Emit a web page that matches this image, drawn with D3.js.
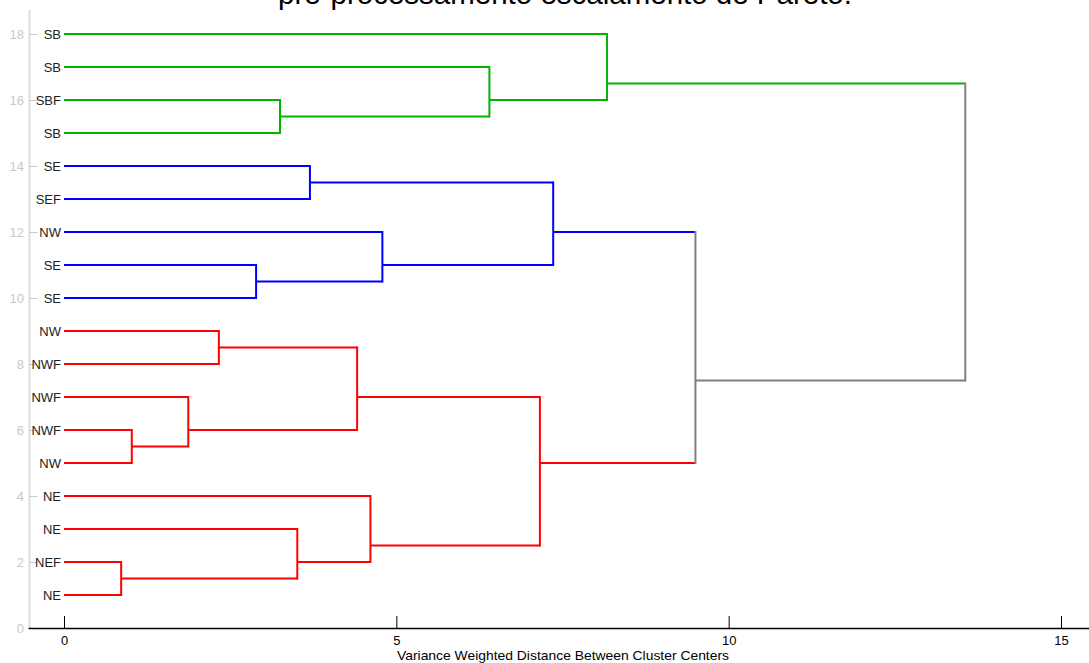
<!DOCTYPE html>
<html>
<head>
<meta charset="utf-8">
<script src="https://cdn.jsdelivr.net/npm/d3@7"></script>
<style>
  html, body { margin: 0; padding: 0; background: #fff; }
  svg { display: block; }
</style>
</head>
<body>
<svg id="chart" width="1089" height="663"></svg>
<script>
// ---------------- DATA ----------------
const titleText = "pré-processamento escalamento de Pareto.";
const xAxisLabel = "Variance Weighted Distance Between Cluster Centers";
// leaves listed bottom-to-top (leaf i sits at y = i + 1)
const leafLabels = ["NE","NEF","NE","NE","NW","NWF","NWF","NWF","NW","SE","SE","NW","SEF","SE","SB","SBF","SB","SB"];
// linkage: new node id = 18 + row index
const mergeLeft   = [0, 4, 6, 7, 9, 14, 2, 12, 20, 3, 11, 16, 26, 25, 17, 30, 32];
const mergeRight  = [1, 5, 19, 8, 10, 15, 18, 13, 21, 24, 22, 23, 27, 28, 29, 31, 33];
const mergeHeight = [0.86, 1.02, 1.87, 2.33, 2.89, 3.25, 3.51, 3.70, 4.41, 4.61, 4.79, 6.40, 7.16, 7.36, 8.17, 9.50, 13.56];
const clusterRoots  = [30, 31, 32];
const clusterColors = ["#ff0000", "#0000ff", "#00b400"];
const aboveColor = "#808080";
const xTicks = [0, 5, 10, 15];
const yTicks = [0, 2, 4, 6, 8, 10, 12, 14, 16, 18];

// ---------------- LAYOUT ----------------
const svg = d3.select("#chart");
const x = d3.scaleLinear().domain([0, 15]).range([64, 1061]);
const y = d3.scaleLinear().domain([0, 18]).range([628, 34]);
const plotLeft = 29.5, plotRight = 1089, plotTop = 10, plotBottom = 628;

const nLeaf = leafLabels.length;
const nodeY = [], nodeH = [], nodeN = [], parent = [];
leafLabels.forEach((l, i) => { nodeY[i] = i + 1; nodeH[i] = 0; nodeN[i] = 1; });
mergeHeight.forEach((h, k) => {
  const id = nLeaf + k, a = mergeLeft[k], b = mergeRight[k];
  nodeN[id] = nodeN[a] + nodeN[b];
  // node sits at the mean position of all its leaves
  nodeY[id] = (nodeY[a] * nodeN[a] + nodeY[b] * nodeN[b]) / nodeN[id];
  nodeH[id] = h;
  parent[a] = id;
  parent[b] = id;
});
function colorOf(id) {
  let cur = id;
  while (cur !== undefined) {
    const ci = clusterRoots.indexOf(cur);
    if (ci >= 0) return clusterColors[ci];
    cur = parent[cur];
  }
  return aboveColor;
}

// ---------------- AXES ----------------
svg.append("line")
  .attr("x1", plotLeft).attr("x2", plotLeft)
  .attr("y1", plotTop).attr("y2", plotBottom)
  .attr("stroke", "#dcdcdc").attr("stroke-width", 2);
const yg = svg.append("g");
yTicks.forEach(t => {
  yg.append("line")
    .attr("x1", plotLeft).attr("x2", plotLeft + 8)
    .attr("y1", y(t) + 0.5).attr("y2", y(t) + 0.5)
    .attr("stroke", "#c8c8c8").attr("stroke-width", 1);
  yg.append("text")
    .attr("x", 24).attr("y", y(t))
    .attr("dy", "0.35em")
    .attr("text-anchor", "end")
    .attr("font-family", "Liberation Sans, Arial, sans-serif")
    .attr("font-size", 13)
    .attr("fill", "#c8c8c8")
    .text(t);
});

const xAxis = d3.axisBottom(x).tickValues(xTicks).tickSize(-12).tickPadding(0).tickFormat(d3.format("d"));
const xg = svg.append("g").attr("transform", `translate(0,${plotBottom})`).call(xAxis);
xg.select(".domain").remove();
xg.selectAll(".tick line").attr("stroke", "#000").attr("stroke-width", 1);
xg.selectAll(".tick text")
  .attr("y", 17).attr("dy", 0)
  .attr("font-family", "Liberation Sans, Arial, sans-serif")
  .attr("font-size", 13).attr("fill", "#000");
svg.append("line")
  .attr("x1", plotLeft - 1).attr("x2", plotRight)
  .attr("y1", plotBottom + 0.5).attr("y2", plotBottom + 0.5)
  .attr("stroke", "#000").attr("stroke-width", 1.5);

svg.append("text")
  .attr("x", 397).attr("y", 660)
  .attr("text-anchor", "start")
  .attr("font-family", "Liberation Sans, Arial, sans-serif")
  .attr("font-size", 13).attr("fill", "#000")
  .attr("textLength", 332).attr("lengthAdjust", "spacingAndGlyphs")
  .text(xAxisLabel);

// ---------------- LEAF LABELS ----------------
leafLabels.forEach((l, i) => {
  svg.append("text")
    .attr("x", 61).attr("y", y(i + 1))
    .attr("dy", "0.35em")
    .attr("text-anchor", "end")
    .attr("font-family", "Liberation Sans, Arial, sans-serif")
    .attr("font-size", 13)
    .attr("fill", "#222")
    .text(l);
});

// ---------------- DENDROGRAM ----------------
const lg = svg.append("g").attr("fill", "none").attr("stroke-width", 2);
mergeHeight.forEach((h, k) => {
  const id = nLeaf + k;
  [mergeLeft[k], mergeRight[k]].forEach(c => {
    lg.append("line")
      .attr("x1", x(nodeH[c])).attr("x2", x(h))
      .attr("y1", y(nodeY[c])).attr("y2", y(nodeY[c]))
      .attr("stroke", colorOf(c));
  });
  lg.append("line")
    .attr("x1", x(h)).attr("x2", x(h))
    .attr("y1", y(nodeY[mergeLeft[k]])).attr("y2", y(nodeY[mergeRight[k]]))
    .attr("stroke", colorOf(id))
    .attr("stroke-linecap", "square");
});

// ---------------- TITLE (clipped at top) ----------------
svg.append("text")
  .attr("x", 565).attr("y", 4)
  .attr("text-anchor", "middle")
  .attr("font-family", "Liberation Sans, Arial, sans-serif")
  .attr("font-size", 29.5).attr("fill", "#000")
  .text(titleText);
</script>
</body>
</html>
